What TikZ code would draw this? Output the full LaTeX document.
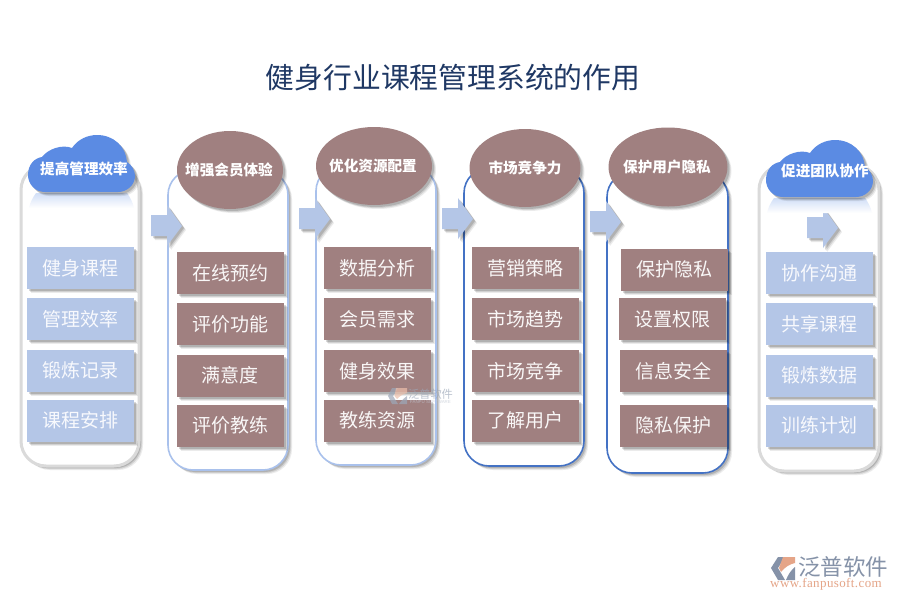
\documentclass[tikz,border=0pt]{standalone}
\usepackage{fontspec}
\setmainfont{Noto Sans CJK SC}
\newfontfamily\latinserif{Liberation Serif}[LetterSpace=3]
\newfontfamily\latinsans{Liberation Sans}
\usetikzlibrary{calc,shapes.geometric}
\definecolor{titleblue}{HTML}{1F3864}
\definecolor{boxblue}{HTML}{B4C6E7}
\definecolor{boxbrown}{HTML}{A08080}
\definecolor{cloudblue}{HTML}{5B8BE3}
\definecolor{edgegray}{HTML}{DADADA}
\definecolor{edgelight}{HTML}{A9C1EC}
\definecolor{edgedark}{HTML}{4472C4}
\definecolor{logogray}{HTML}{8592A8}
\definecolor{logoorange}{HTML}{E5A588}
\tikzset{
  softshadow/.style={
    preaction={fill=black,fill opacity=.08,draw=none,transform canvas={shift={(4pt,-4pt)}}},
    preaction={fill=black,fill opacity=.11,draw=none,transform canvas={shift={(3pt,-3pt)}}},
    preaction={fill=black,fill opacity=.15,draw=none,transform canvas={shift={(2pt,-2pt)}}}},
  panel/.style={draw=#1,line width=1.6pt,fill=white,rounded corners=25pt,softshadow},
  grayedge/.style={draw=edgegray,line width=3pt,fill=white,rounded corners=25pt,softshadow},
  itembox/.style={minimum width=107pt,minimum height=42pt,inner sep=0pt,softshadow,font=\fontsize{19pt}{19pt}\selectfont},
  bluebox/.style={itembox,fill=boxblue,text=white!90!boxblue},
  brownbox/.style={itembox,fill=boxbrown,text=white!94!boxbrown},
  oval/.style={fill=boxbrown,softshadow},
  headtext/.style={inner sep=0pt,text=white,font=\fontsize{14.6pt}{15pt}\selectfont\bfseries},
  blockarrow/.style={fill=boxblue,softshadow},
  cloudfill/.style={fill=cloudblue,softshadow},
}
\newcommand{\arrowat}[2]{% left x, top y of the head
  \path[blockarrow] (#1,#2+10) -- (#1+16,#2+10) -- (#1+16,#2) -- (#1+31,#2+21) -- (#1+16,#2+41) -- (#1+16,#2+31) -- (#1,#2+31) -- cycle;}
\newcommand{\cloudat}[2]{%
  \shade[shift={(#1,#2)},top color=cloudblue!28!white,bottom color=white]
    (8,58) -- (99,58) .. controls (102,62) and (105,68) .. (106,73) -- (1,73) .. controls (2,68) and (5,62) .. (8,58) -- cycle;
  \path[shift={(#1,#2)},cloudfill] (17,57) .. controls (7,57) and (0,49) .. (0,40)
    .. controls (0,29) and (7,23) .. (14,22)
    .. controls (20,14) and (34,9) .. (44,13)
    .. controls (50,4) and (60,0) .. (69,0)
    .. controls (86,0) and (98,12) .. (99,27)
    .. controls (104,30) and (107,36) .. (107,41)
    .. controls (107,50) and (99,57) .. (90,57) -- cycle;}
\begin{document}
\begin{tikzpicture}[x=1pt,y=-1pt]
\useasboundingbox (0,0) rectangle (900,600);
\fill[white] (0,0) rectangle (900,600);

\node[text=titleblue,inner sep=0pt,font=\fontsize{28.8pt}{29pt}\selectfont] (title) at (453,78) {健身行业课程管理系统的作用};

% panels
\path[grayedge] (21,165) rectangle (139,466);
\path[panel=edgelight] (168,170) rectangle (288,470);
\path[panel=edgelight] (316,166) rectangle (436,465);
\path[panel=edgedark] (464,168) rectangle (584,466);
\path[panel=edgedark] (607,172) rectangle (728,473);
\path[grayedge] (759,165) rectangle (879,471);

% arrows
\arrowat{151}{205}
\arrowat{299}{198}
\arrowat{442}{198}
\arrowat{590}{201}
\arrowat{807}{207}

% heads
\cloudat{28}{135}
\cloudat{766}{140}
\node[headtext] (h1) at (84,169) {提高管理效率};
\node[oval,ellipse,minimum width=106pt,minimum height=78pt,inner sep=0pt] (e2) at (230,170) {};
\node[headtext] (h2) at (229,170) {增强会员体验};
\node[oval,ellipse,minimum width=116pt,minimum height=78pt,inner sep=0pt] (e3) at (374,166) {};
\node[headtext] (h3) at (373,166) {优化资源配置};
\node[oval,ellipse,minimum width=111pt,minimum height=78pt,inner sep=0pt] (e4) at (525,168) {};
\node[headtext] (h4) at (525,168) {市场竞争力};
\node[oval,ellipse,minimum width=119pt,minimum height=79pt,inner sep=0pt] (e5) at (668,167) {};
\node[headtext] (h5) at (667,167) {保护用户隐私};
\node[headtext] (h6) at (825,171) {促进团队协作};

% column 1
\node[bluebox] (a1) at (80.5,268) {健身课程};
\node[bluebox] (a2) at (80.5,319) {管理效率};
\node[bluebox] (a3) at (80.5,370.5) {锻炼记录};
\node[bluebox] (a4) at (80.5,420.5) {课程安排};
% column 2
\node[brownbox] (b1) at (230,273) {在线预约};
\node[brownbox] (b2) at (230,324) {评价功能};
\node[brownbox] (b3) at (230,375.5) {满意度};
\node[brownbox] (b4) at (230,425.5) {评价教练};
% column 3
\node[brownbox] (c1) at (377,268) {数据分析};
\node[brownbox] (c2) at (377,319) {会员需求};
\node[brownbox] (c3) at (377,371) {健身效果};
\node[brownbox] (c4) at (377,420.5) {教练资源};
% column 4
\node[brownbox] (d1) at (525.5,268) {营销策略};
\node[brownbox] (d2) at (525.5,319) {市场趋势};
\node[brownbox] (d3) at (525.5,371) {市场竞争};
\node[brownbox] (d4) at (525.5,420.5) {了解用户};
% column 5
\node[brownbox] (f1) at (674,269.5) {保护隐私};
\node[brownbox] (f2) at (672.5,319) {设置权限};
\node[brownbox] (f3) at (673,371) {信息安全};
\node[brownbox] (f4) at (673.5,425.5) {隐私保护};
% column 6
\node[bluebox] (g1) at (819.5,273) {协作沟通};
\node[bluebox] (g2) at (819.5,324) {共享课程};
\node[bluebox] (g3) at (819.5,375.5) {锻炼数据};
\node[bluebox] (g4) at (819.5,425.5) {训练计划};

% central watermark
\begin{scope}[opacity=.7]
  \fill[logogray!80] (388,396) -- (392,388) -- (398,388) -- (393,396) -- (398,404) -- (392,404) -- cycle;
  \fill[logoorange!70] (396,388) -- (407,388) -- (407,393) .. controls (403,394) and (400,396) .. (397,399) -- (394.5,396) -- cycle;
  \fill[logogray!80] (399,404) -- (407,404) -- (407,396) .. controls (404,398) and (402,400) .. (399,404) -- cycle;
  \node[inner sep=0pt,text=logogray!80,font=\fontsize{11.2pt}{12pt}\selectfont] (wm1) at (430.5,394) {泛普软件};
  \node[inner sep=0pt,text=logogray!50,font=\latinsans\fontsize{4.4pt}{5pt}\selectfont] (wm2) at (430.5,402) {FANPU SOFTWARE};
\end{scope}

% corner logo
\fill[logogray] (771,568) -- (778,557) -- (785,557) -- (778,568) -- (785,580) -- (778,580) -- cycle;
\fill[logoorange] (783,557) -- (795,557) -- (795,563) .. controls (790,564) and (785,567) .. (781,572) -- (779,568) -- cycle;
\fill[logogray] (786,580) -- (795,580) -- (795,567) .. controls (791,570) and (788,575) .. (786,580) -- cycle;
\node[inner sep=0pt,text=logogray,font=\fontsize{22.5pt}{23pt}\selectfont] (brand) at (843,567) {泛普软件};
\node[inner sep=0pt,text=logoorange,font=\latinserif\fontsize{13pt}{13pt}\selectfont] (url) at (826,584) {www.fanpusoft.com};
\end{tikzpicture}
\end{document}
